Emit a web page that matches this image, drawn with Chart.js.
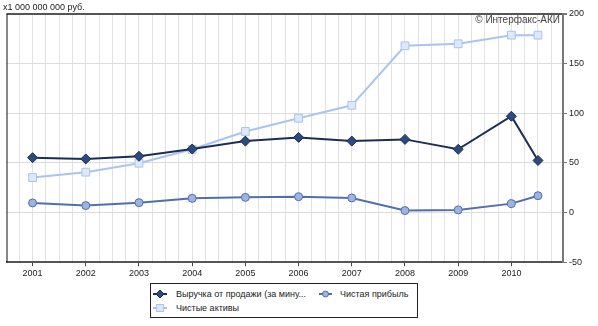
<!DOCTYPE html>
<html>
<head>
<meta charset="utf-8">
<script src="https://cdn.jsdelivr.net/npm/chart.js@4/dist/chart.umd.min.js"></script>
<style>
  html, body { margin: 0; padding: 0; background: #fff; }
  #wrap { position: relative; width: 598px; height: 326px; }
  canvas { position: absolute; left: 0; top: 0; }
  #legend {
    position: absolute; left: 150px; top: 283px; width: 266px; height: 33px;
    border: 1px solid #222; background: #fff;
    font-family: "Liberation Sans", Arial, sans-serif; font-size: 9px; color: #222;
  }
  .item { position: absolute; height: 14px; line-height: 14px; white-space: nowrap; }
  .item svg { position: absolute; left: 0; top: 0; }
  .item span { position: absolute; left: 24px; top: 0; }
</style>
</head>
<body>
<div id="wrap">
  <canvas id="c" width="598" height="326"></canvas>
  <div id="legend">
    <div class="item" style="left:1px; top:3px; width:160px;">
      <svg width="18" height="14"><line x1="1" y1="7" x2="15" y2="7" stroke="#1b2e55" stroke-width="2"/><polygon points="8,3 12,7 8,11 4,7" fill="#2b4a7e" stroke="#1b2e55" stroke-width="1"/></svg>
      <span>Выручка от продажи (за мину...</span>
    </div>
    <div class="item" style="left:167px; top:3px; width:96px;">
      <svg width="18" height="14"><line x1="1" y1="7" x2="14" y2="7" stroke="#4f6fae" stroke-width="2"/><circle cx="7.5" cy="7" r="3" fill="#9db3e0" stroke="#4f6fae" stroke-width="1"/></svg>
      <span style="left:22px">Чистая прибыль</span>
    </div>
    <div class="item" style="left:1px; top:17px; width:120px;">
      <svg width="18" height="14"><line x1="1" y1="7" x2="15" y2="7" stroke="#a9c4f0" stroke-width="2"/><rect x="4.5" y="3.5" width="7" height="7" fill="#dde8fa" stroke="#a9c4f0" stroke-width="1"/></svg>
      <span>Чистые активы</span>
    </div>
  </div>
</div>
<script>
// ---- data ----
const xValues = [2001, 2002, 2003, 2004, 2005, 2006, 2007, 2008, 2009, 2010, 2010.5];
const revenue = [55.3, 54, 56.7, 64, 72, 75.7, 72, 73.7, 63.7, 97, 52.5];
const netProfit = [9.7, 7, 10, 14.3, 15.3, 16, 14.7, 2, 2.7, 9, 17];
const netAssets = [35.3, 40.7, 49.7, 63.7, 81.7, 95, 108, 168, 170, 178.7, 178.7];
const seriesNames = ['Выручка от продажи (за мину...', 'Чистая прибыль', 'Чистые активы'];
const yTicks = [-50, 0, 50, 100, 150, 200];
const unitLabel = 'x1 000 000 000 руб.';
const copyright = '© Интерфакс-АКИ';

const FONT = '"Liberation Sans", Arial, sans-serif';
Chart.defaults.font.family = FONT;
Chart.defaults.font.size = 9;
const pts = arr => arr.map((v, i) => ({ x: xValues[i], y: v }));

const frame = {
  id: 'frame',
  afterDraw(chart) {
    const { ctx, chartArea: a } = chart;
    ctx.save();
    ctx.strokeStyle = '#111';
    ctx.lineWidth = 1;
    ctx.beginPath();
    ctx.moveTo(a.left + 0.5, a.top);
    ctx.lineTo(a.left + 0.5, a.bottom);
    ctx.stroke();
    ctx.font = '10px ' + FONT;
    ctx.fillStyle = '#444';
    ctx.textAlign = 'right';
    ctx.textBaseline = 'middle';
    ctx.fillText(copyright, a.right - 3, a.top + 6);
    ctx.restore();
  }
};

new Chart(document.getElementById('c'), {
  type: 'line',
  data: {
    datasets: [
      { label: seriesNames[0], data: pts(revenue), borderColor: '#1b2e55', backgroundColor: '#2b4a7e',
        borderWidth: 2, pointStyle: 'rectRot', pointRadius: 5, pointBorderWidth: 1, pointBorderColor: '#1b2e55', pointBackgroundColor: '#2b4a7e' },
      { label: seriesNames[1], data: pts(netProfit), borderColor: '#4f6fae', backgroundColor: '#9db3e0',
        borderWidth: 2, pointStyle: 'circle', pointRadius: 4, pointBorderWidth: 1, pointBorderColor: '#4f6fae', pointBackgroundColor: '#9db3e0' },
      { label: seriesNames[2], data: pts(netAssets), borderColor: '#a9c4f0', backgroundColor: '#dde8fa',
        borderWidth: 2, pointStyle: 'rect', pointRadius: 5.5, pointBorderWidth: 1, pointBorderColor: '#a9c4f0', pointBackgroundColor: '#dde8fa' }
    ]
  },
  options: {
    responsive: false,
    animation: false,
    layout: { padding: { left: 3, right: 0, top: 0, bottom: 45 } },
    plugins: {
      legend: { display: false },
      tooltip: { enabled: false },
      title: { display: true, text: unitLabel, align: 'start', color: '#222',
        font: { family: FONT, size: 9, weight: 'normal' }, padding: { top: 2, bottom: 1.2 } }
    },
    scales: {
      x: {
        type: 'linear', min: 2000.51, max: 2010.97,
        afterBuildTicks(scale) {
          const t = [];
          for (let v = 2000.75; v <= 2010.76; v += 0.25) t.push({ value: Math.round(v * 100) / 100 });
          scale.ticks = t;
        },
        ticks: { autoSkip: false, maxRotation: 0, padding: 2, color: '#222', font: { family: FONT, size: 9 },
          callback: v => Number.isInteger(v) ? String(v) : '' },
        grid: { color: '#e2e2e2', lineWidth: 1, tickLength: 4,
          tickColor: c => (c.tick && Number.isInteger(c.tick.value)) ? '#444' : 'rgba(0,0,0,0)' },
        border: { color: '#555', width: 2 }
      },
      y: {
        position: 'right', min: -50, max: 200,
        afterBuildTicks(scale) { scale.ticks = yTicks.map(v => ({ value: v })); },
        afterFit(scale) { scale.width = 35; },
        ticks: { padding: 2, color: '#222', font: { family: FONT, size: 9 } },
        grid: { tickLength: 4,
          color: c => (c.tick && (c.tick.value === 200 || c.tick.value === -50)) ? '#555' : '#dcdcdc',
          lineWidth: c => (c.tick && c.tick.value === 200) ? 2 : 1,
          tickColor: '#777' },
        border: { color: '#777', width: 2 }
      }
    }
  },
  plugins: [frame]
});
</script>
</body>
</html>
